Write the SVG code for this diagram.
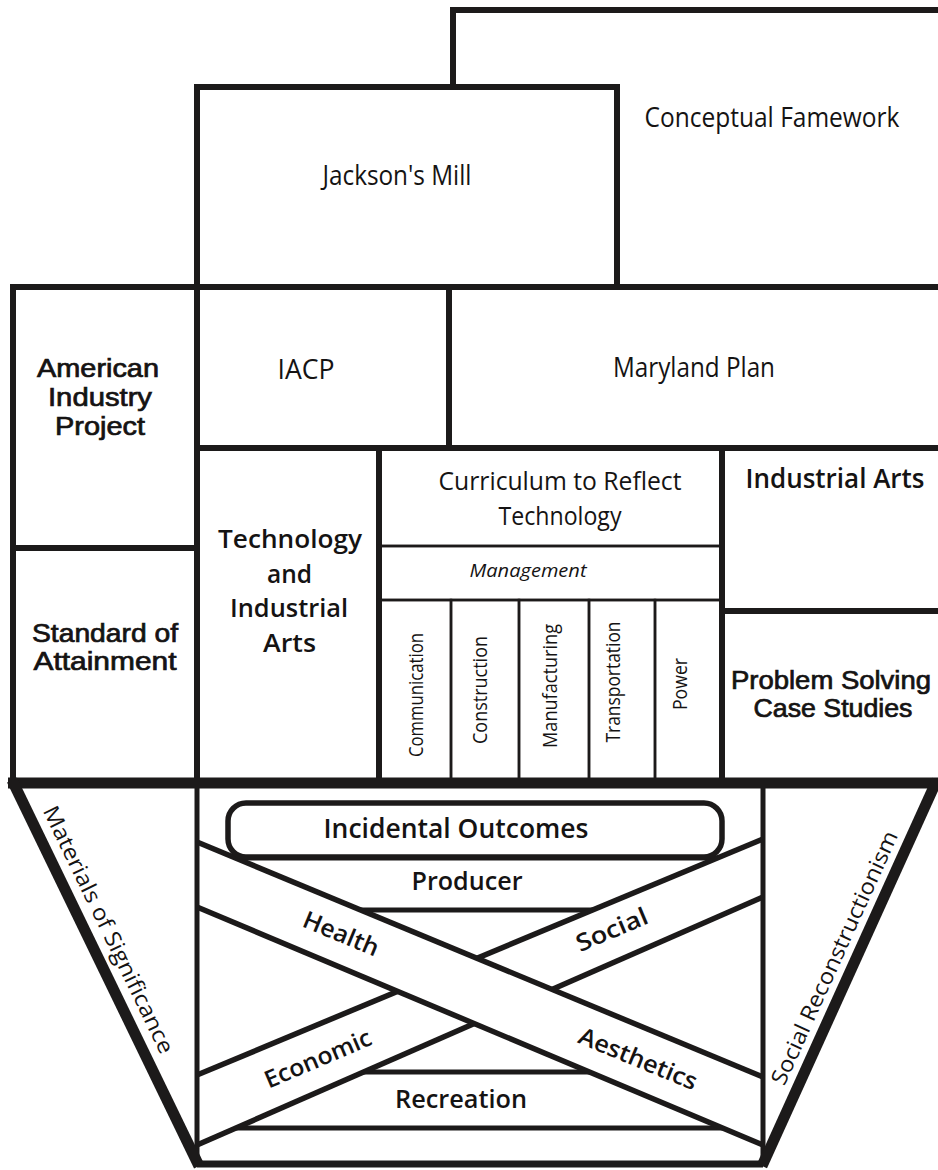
<svg xmlns="http://www.w3.org/2000/svg" width="938" height="1170" viewBox="0 0 938 1170">
<style>
  .ln { fill: none; stroke: #1c1a1a; stroke-width: 6; stroke-linecap: square; }
  .thin { fill: none; stroke: #1c1a1a; stroke-width: 2.5; }
  .mid { fill: none; stroke: #1c1a1a; stroke-width: 5; }
  .heavy { fill: none; stroke: #1c1a1a; stroke-width: 11; stroke-linejoin: miter; }
  .band { fill: #ffffff; stroke: none; }
  .bl { fill: none; stroke: #1c1a1a; stroke-width: 5.5; }
  .c { font-family: "Open Sans", "Liberation Sans", sans-serif; fill: #151313; text-anchor: middle; font-weight: 500; }
  .b { font-weight: 600; }
  .l { font-family: "Liberation Sans", Arial, sans-serif; fill: #151313; text-anchor: middle; stroke: #151313; stroke-width: 0.7; }
</style>
<rect x="0" y="0" width="938" height="1170" fill="#ffffff"/>

<g id="conceptual-framework">
  <path class="ln" d="M453,87 V10 H945"/>
  <text class="c" x="772" y="127" font-size="28" textLength="255" lengthAdjust="spacingAndGlyphs">Conceptual Famework</text>
</g>

<g id="jacksons-mill">
  <rect class="ln" x="197" y="87" width="420" height="200"/>
  <text class="c" x="397" y="185" font-size="28" textLength="149" lengthAdjust="spacingAndGlyphs">Jackson's Mill</text>
</g>

<g id="conceptual-bottom">
  <path class="ln" d="M617,287 H945"/>
</g>

<g id="american-industry-project">
  <rect class="ln" x="13" y="287" width="184" height="261"/>
  <text class="l" x="98" y="377" font-size="25" textLength="122" lengthAdjust="spacingAndGlyphs">American</text>
  <text class="l" x="100" y="406" font-size="25" textLength="104" lengthAdjust="spacingAndGlyphs">Industry</text>
  <text class="l" x="100" y="435" font-size="25" textLength="90" lengthAdjust="spacingAndGlyphs">Project</text>
</g>

<g id="standard-of-attainment">
  <rect class="ln" x="13" y="548" width="184" height="235"/>
  <text class="l" x="105" y="642" font-size="25" textLength="146" lengthAdjust="spacingAndGlyphs">Standard of</text>
  <text class="l" x="105" y="670" font-size="25" textLength="143" lengthAdjust="spacingAndGlyphs">Attainment</text>
</g>

<g id="iacp">
  <rect class="ln" x="197" y="287" width="252" height="161"/>
  <text class="c" x="306" y="379" font-size="27" textLength="57" lengthAdjust="spacingAndGlyphs">IACP</text>
</g>

<g id="maryland-plan">
  <path class="ln" d="M945,287 H449 V448 H945"/>
  <text class="c" x="694" y="377" font-size="27" textLength="162" lengthAdjust="spacingAndGlyphs">Maryland Plan</text>
</g>

<g id="technology-and-industrial-arts">
  <rect class="ln" x="197" y="448" width="182" height="335"/>
  <text class="c b" x="290" y="548" font-size="25" textLength="144" lengthAdjust="spacingAndGlyphs">Technology</text>
  <text class="c b" x="289.5" y="583" font-size="25" textLength="45" lengthAdjust="spacingAndGlyphs">and</text>
  <text class="c b" x="289" y="617" font-size="25" textLength="118" lengthAdjust="spacingAndGlyphs">Industrial</text>
  <text class="c b" x="289.5" y="652" font-size="25" textLength="53" lengthAdjust="spacingAndGlyphs">Arts</text>
</g>

<g id="curriculum-to-reflect-technology">
  <rect class="ln" x="379" y="448" width="343" height="335"/>
  <line class="thin" x1="379" y1="546" x2="722" y2="546"/>
  <text class="c" x="560" y="490" font-size="26" textLength="243" lengthAdjust="spacingAndGlyphs">Curriculum to Reflect</text>
  <text class="c" x="560" y="525" font-size="26" textLength="123" lengthAdjust="spacingAndGlyphs">Technology</text>
</g>

<g id="management">
  <rect class="thin" x="379" y="546" width="343" height="54"/>
  <text class="c" x="528" y="577" font-size="18" font-style="italic" textLength="117" lengthAdjust="spacingAndGlyphs">Management</text>
</g>

<g id="communication">
  <rect class="thin" x="379" y="600" width="72" height="183"/>
  <text class="c" transform="translate(423,695) rotate(-90)" x="0" y="0" font-size="20" textLength="124" lengthAdjust="spacingAndGlyphs">Communication</text>
</g>
<g id="construction">
  <rect class="thin" x="451" y="600" width="68" height="183"/>
  <text class="c" transform="translate(487,690) rotate(-90)" x="0" y="0" font-size="20" textLength="108" lengthAdjust="spacingAndGlyphs">Construction</text>
</g>
<g id="manufacturing">
  <rect class="thin" x="519" y="600" width="70" height="183"/>
  <text class="c" transform="translate(557,686) rotate(-90)" x="0" y="0" font-size="20" textLength="124" lengthAdjust="spacingAndGlyphs">Manufacturing</text>
</g>
<g id="transportation">
  <rect class="thin" x="589" y="600" width="66" height="183"/>
  <text class="c" transform="translate(620,682) rotate(-90)" x="0" y="0" font-size="20" textLength="121" lengthAdjust="spacingAndGlyphs">Transportation</text>
</g>
<g id="power">
  <rect class="thin" x="655" y="600" width="67" height="183"/>
  <text class="c" transform="translate(687,684) rotate(-90)" x="0" y="0" font-size="20" textLength="52" lengthAdjust="spacingAndGlyphs">Power</text>
</g>

<g id="industrial-arts">
  <path class="ln" d="M945,448 H722 V611 H945"/>
  <text class="c b" x="835" y="488" font-size="27" textLength="179" lengthAdjust="spacingAndGlyphs">Industrial Arts</text>
</g>

<g id="problem-solving-case-studies">
  <path class="ln" d="M945,611 H722 V783 H945"/>
  <text class="l" x="831" y="689" font-size="25" textLength="200" lengthAdjust="spacingAndGlyphs">Problem Solving</text>
  <text class="l" x="833" y="717" font-size="25" textLength="159" lengthAdjust="spacingAndGlyphs">Case Studies</text>
</g>

<g id="connectors">
  <line class="mid" x1="230" y1="858" x2="725" y2="858"/>
  <line class="mid" x1="355" y1="910" x2="598" y2="910"/>
  <line class="mid" x1="350" y1="1072" x2="600" y2="1072"/>
  <line class="mid" x1="212" y1="1128" x2="738" y2="1128"/>
</g>

<g id="economic-social-band">
  <polygon class="band" points="197,1075 763,839 763,897 197,1145"/>
  <line class="bl" x1="197" y1="1075" x2="763" y2="839"/>
  <line class="bl" x1="197" y1="1145" x2="763" y2="897"/>
</g>

<g id="health-aesthetics-band">
  <polygon class="band" points="197,842 763,1077 763,1145 197,907"/>
  <line class="bl" x1="197" y1="842" x2="763" y2="1077"/>
  <line class="bl" x1="197" y1="907" x2="763" y2="1145"/>
</g>

<g id="incidental-outcomes">
  <rect x="228" y="803" width="494" height="54" rx="18" ry="18" fill="#ffffff" stroke="#1c1a1a" stroke-width="5.5"/>
  <text class="c b" x="456" y="838" font-size="27" textLength="265" lengthAdjust="spacingAndGlyphs">Incidental Outcomes</text>
</g>

<g id="producer">
  <text class="c b" x="467" y="890" font-size="25" textLength="111" lengthAdjust="spacingAndGlyphs">Producer</text>
</g>

<g id="recreation">
  <text class="c b" x="461" y="1108" font-size="26" textLength="132" lengthAdjust="spacingAndGlyphs">Recreation</text>
</g>

<g id="health">
  <text class="c b" transform="translate(341,934) rotate(22.5)" x="0" y="8" font-size="24" textLength="80" lengthAdjust="spacingAndGlyphs">Health</text>
</g>
<g id="aesthetics">
  <text class="c b" transform="translate(638,1059) rotate(22.5)" x="0" y="8" font-size="24" textLength="126" lengthAdjust="spacingAndGlyphs">Aesthetics</text>
</g>
<g id="social">
  <text class="c b" transform="translate(612,930) rotate(-23)" x="0" y="8" font-size="24" textLength="76" lengthAdjust="spacingAndGlyphs">Social</text>
</g>
<g id="economic">
  <text class="c b" transform="translate(318,1059) rotate(-23)" x="0" y="8" font-size="24" textLength="114" lengthAdjust="spacingAndGlyphs">Economic</text>
</g>

<g id="frame">
  <line class="mid" x1="197" y1="783" x2="197" y2="1163"/>
  <line class="mid" x1="763" y1="783" x2="763" y2="1163"/>
  <line x1="197" y1="1164" x2="763" y2="1164" stroke="#1c1a1a" stroke-width="7"/>
  <line x1="8" y1="783" x2="945" y2="783" stroke="#1c1a1a" stroke-width="11"/>
  <polyline class="heavy" points="12,780 199,1166"/>
  <polyline class="heavy" points="937,780 762,1166"/>
</g>

<g id="materials-of-significance">
  <text class="c" transform="translate(108,930) rotate(64.2)" x="0" y="7" font-size="22" textLength="272" lengthAdjust="spacingAndGlyphs">Materials of Significance</text>
</g>

<g id="social-reconstructionism">
  <text class="c" transform="translate(835,958) rotate(-65.6)" x="0" y="7" font-size="22" textLength="276" lengthAdjust="spacingAndGlyphs">Social Reconstructionism</text>
</g>
</svg>
